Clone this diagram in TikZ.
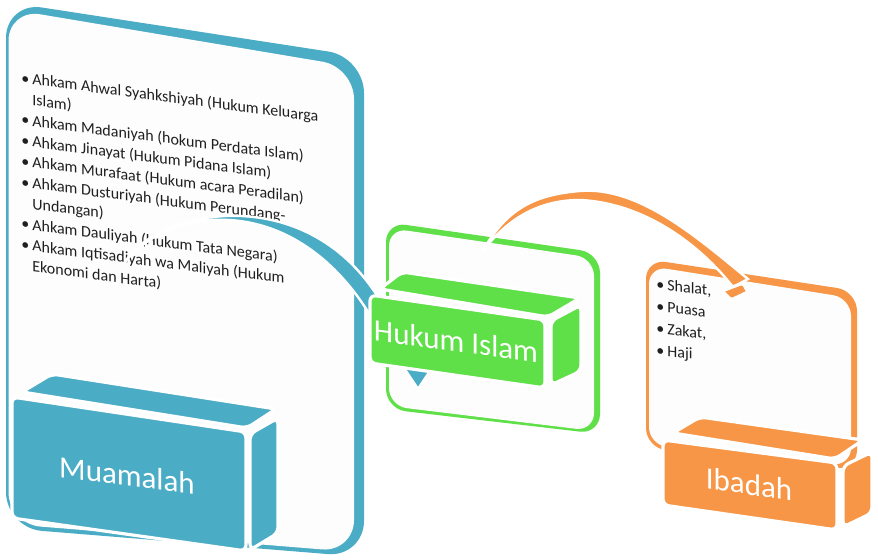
\documentclass[tikz,border=0pt]{standalone}
\usepackage{fontspec}
\setmainfont{Carlito}
\usetikzlibrary{calc}
\definecolor{muablue}{HTML}{4BACC6}
\definecolor{hukgreen}{HTML}{5FDF48}
\definecolor{ibdorange}{HTML}{F79646}
\definecolor{paper}{HTML}{FDFDFD}
\definecolor{ink}{HTML}{1F1F1F}
\tikzset{
    panel/.style = {fill=#1, rounded corners=10pt},
    boxface/.style = {fill=#1, draw=white, line width=1.6pt, rounded corners=3pt},
    band/.style = {fill=#1, draw=white, line width=1.2pt},
    boxlabel/.style = {text=white, font=\fontsize{15.5}{18}\selectfont, inner sep=0pt, transform shape},
    listtext/.style = {text=ink, font=\fontsize{8}{10.4}\selectfont, inner sep=0pt, anchor=base west, transform shape}
}

\begin{document}
\begin{tikzpicture}[x=0.5pt, y=-0.5pt]
    \useasboundingbox[fill=white] (0,0) rectangle (878,560);
    % Muamalah panel
    \path[panel=muablue, rounded corners=18pt] (6,528) -- (6,2) -- (364,57) -- (364,557) -- cycle;
    \path[panel=paper, rounded corners=16pt] (8.5,524) -- (8.5,9) -- (354,67) -- (354,552) -- cycle;
    \node[listtext, yslant=-0.13] (fiqhlist) at (21,83) {%
        \begin{tabular}[t]{@{}l@{\hspace{1.5pt}}l@{}}
        \textbullet & Ahkam Ahwal Syahkshiyah (Hukum Keluarga\\
                    & Islam)\\
        \textbullet & Ahkam Madaniyah (hokum Perdata Islam)\\
        \textbullet & Ahkam Jinayat (Hukum Pidana Islam)\\
        \textbullet & Ahkam Murafaat (Hukum acara Peradilan)\\
        \textbullet & Ahkam Dusturiyah (Hukum Perundang-\\
                    & Undangan)\\
        \textbullet & Ahkam Dauliyah (Hukum Tata Negara)\\
        \textbullet & Ahkam Iqtisadiyah wa Maliyah (Hukum\\
                    & Ekonomi dan Harta)
        \end{tabular}};
    % Hukum Islam panel
    \path[panel=hukgreen] (386,409) -- (386,222) -- (600,253) -- (600,434) -- cycle;
    \path[panel=paper, rounded corners=9pt] (389,406) -- (389,228) -- (594,258) -- (594,431) -- cycle;
    \coordinate (muaTail) at (125,262);
    \coordinate (hukTip) at (418,389);
    \path[band=muablue] (muaTail) .. controls (160,205) and (330,175) .. (395,330) -- (383,338)
        .. controls (305,185) and (170,205) .. (muaTail) -- cycle;
    \path[band=muablue] (396,356) -- (432,368) -- (hukTip) -- cycle;
    \path[boxface=hukgreen] (380,289) -- (402,272) -- (580,298) -- (548,317) -- cycle;
    \path[boxface=hukgreen] (551,321) -- (581,305) -- (581,371) -- (551,385) -- cycle;
    \path[boxface=hukgreen] (370,295) -- (545,320) -- (545,388) -- (370,363) -- cycle;
    \node[boxlabel, yslant=-0.135] (hukLabel) at (456,341) {Hukum Islam};
    % Ibadah panel
    \path[panel=ibdorange] (646,448) -- (646,259) -- (857,291) -- (857,470) -- cycle;
    \path[panel=paper, rounded corners=9pt] (649,445) -- (649,266) -- (851,298) -- (851,466) -- cycle;
    \coordinate (hukTail) at (482,252);
    \coordinate (ibdTip) at (731,300);
    \path[band=ibdorange] (hukTail) .. controls (505,212) and (530,195) .. (580,191)
        .. controls (640,186) and (700,240) .. (748,279) -- (733,287)
        .. controls (700,245) and (645,203) .. (580,200)
        .. controls (535,200) and (505,222) .. (hukTail) -- cycle;
    \path[boxface=ibdorange, rounded corners=1pt] (722,291) -- (743,283) -- (748,292) -- (ibdTip) -- cycle;
    \node[listtext, yslant=-0.12, font=\fontsize{8}{11}\selectfont] (ibdlist) at (656,289) {%
        \begin{tabular}[t]{@{}l@{\hspace{1.5pt}}l@{}}
        \textbullet & Shalat,\\
        \textbullet & Puasa\\
        \textbullet & Zakat,\\
        \textbullet & Haji
        \end{tabular}};
    \path[boxface=ibdorange] (673,433) -- (700,417) -- (863,440) -- (835,459) -- cycle;
    \path[boxface=ibdorange] (843,466) -- (872,452) -- (872,513) -- (843,527) -- cycle;
    \path[boxface=ibdorange] (663,440) -- (837,463) -- (837,530) -- (663,505) -- cycle;
    \node[boxlabel, yslant=-0.15] (ibdLabel) at (749,484) {Ibadah};
    % Muamalah box
    \path[boxface=muablue] (22,392) -- (52,374) -- (276,409) -- (247,428) -- cycle;
    \path[boxface=muablue] (250,434) -- (278,418) -- (278,533) -- (250,550) -- cycle;
    \path[boxface=muablue] (12,397) -- (246,432) -- (246,551) -- (12,518) -- cycle;
    \node[boxlabel, yslant=-0.125] (muaLabel) at (127,475) {Muamalah};
\end{tikzpicture}
\end{document}
